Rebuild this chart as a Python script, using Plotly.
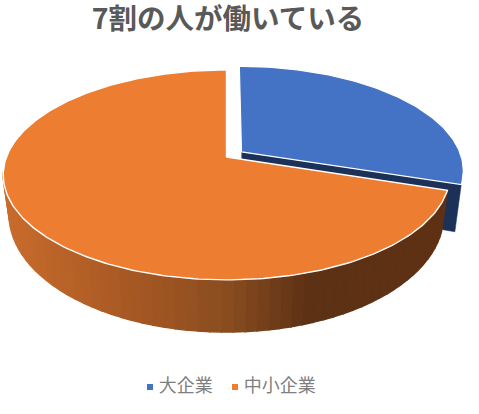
import numpy as np
import plotly.graph_objects as go

TITLE = "7割の人が働いている"
LABELS = ["大企業", "中小企業"]
SHARES = [30, 70]
TOP_COLORS = ["#4472C4", "#ED7D31"]
EDGE_COLOR = "#1C3158"

# shading of the orange side wall, left to right in pixels
SHADE_X = [5, 120, 226, 310, 450]
SHADE_R = [200, 170, 138, 92, 96]
SHADE_G = [108, 90, 77, 49, 50]
SHADE_B = [45, 36, 32, 20, 20]

# fake 3D: a circle seen in perspective, top and bottom plane of the pie
CX = 226.5
TOP_PLANE = dict(r=220, a=101.9, y0=157)
BASE_PLANE = dict(r=214, a=113.6, y0=195)
BLUE_BASE_PLANE = dict(r=214, a=113.6, y0=201)
TILT = 0.171
EXPLODE = 0.085
WALL_END = 262  # the wall is hidden behind the top past this angle

# legend row, drawn by hand since the plotly one keeps a wide symbol gap
LEGEND_X = [150, 235]
LEGEND_Y = 387


def project(u, v, plane):
    w = 1 + TILT * v
    return CX + plane["r"] * u / w, plane["y0"] - plane["a"] * v / w


def rim(start, stop, offset, plane):
    # angles in degrees, clockwise from 12 o'clock
    t = np.radians(np.linspace(start, stop, max(int(abs(stop - start)), 2) + 1))
    return project(np.sin(t) + offset[0], np.cos(t) + offset[1], plane)


def add_poly(fig, x, y, fill, line_color=None, line_width=1.5):
    fig.add_trace(go.Scatter(
        x=list(x), y=list(y), mode="lines", fill="toself", fillcolor=fill,
        line=dict(color=line_color or fill, width=line_width),
        hoverinfo="skip", showlegend=False))


angles = np.cumsum([0] + SHARES) / sum(SHARES) * 360
mid = np.radians((angles[0] + angles[1]) / 2)
blue_off = (EXPLODE * np.sin(mid), EXPLODE * np.cos(mid))
none_off = (0, 0)

fig = go.Figure()

# blue slice: cut face and a bit of outer wall
ax, ay = project(blue_off[0], blue_off[1], TOP_PLANE)
bx, by = project(blue_off[0], blue_off[1], BLUE_BASE_PLANE)
tx, ty = rim(angles[1] - 1, angles[1], blue_off, TOP_PLANE)
ex, ey = rim(angles[1] - 1, angles[1], blue_off, BLUE_BASE_PLANE)
add_poly(fig, [ax, tx[-1], ex[-1], bx], [ay, ty[-1], ey[-1], by], EDGE_COLOR, line_width=0.5)
rx, ry = rim(angles[0], angles[1], blue_off, TOP_PLANE)
add_poly(fig, [ax, *rx, ax], [ay, *ry, ay], TOP_COLORS[0], "white", 1.2)

# orange side wall, cut in thin strips for the shading
steps = np.linspace(angles[1], WALL_END, 60)
for a, b in zip(steps[:-1], steps[1:]):
    x1, y1 = rim(a, b, none_off, TOP_PLANE)
    x2, y2 = rim(a, b, none_off, BASE_PLANE)
    xm = (x1[0] + x1[-1]) / 2
    shade = "rgb(%d,%d,%d)" % (np.interp(xm, SHADE_X, SHADE_R),
                               np.interp(xm, SHADE_X, SHADE_G),
                               np.interp(xm, SHADE_X, SHADE_B))
    add_poly(fig, [*x1, *x2[::-1], x1[0]], [*y1, *y2[::-1], y1[0]], shade)

# orange top
ox, oy = project(0, 0, TOP_PLANE)
rx, ry = rim(angles[1], angles[2], none_off, TOP_PLANE)
add_poly(fig, [ox, *rx, ox], [oy, *ry, oy], TOP_COLORS[1], "white", 1.4)

# legend entries
for name, color, lx in zip(LABELS, TOP_COLORS, LEGEND_X):
    fig.add_trace(go.Scatter(
        x=[lx], y=[LEGEND_Y], mode="markers+text", name=name,
        text=[" " + name], textposition="middle right",
        textfont=dict(family="Noto Sans CJK JP", size=18, color="#7F7F7F"),
        marker=dict(symbol="square", size=6, color=color),
        hoverinfo="skip", showlegend=False))

fig.update_layout(
    width=479, height=414, autosize=False,
    margin=dict(l=0, r=0, t=0, b=0),
    paper_bgcolor="white", plot_bgcolor="white",
    title=dict(text=TITLE, x=0.476, xanchor="center", y=0.955, yanchor="middle",
               font=dict(family="Noto Sans CJK JP", size=28.5, color="#595959", weight="bold")),
    xaxis=dict(range=[0, 479], visible=False, fixedrange=True),
    yaxis=dict(range=[414, 0], visible=False, fixedrange=True),
)

fig.write_html("out.html", post_script="document.body.style.margin='0'",
               config=dict(displayModeBar=False))
